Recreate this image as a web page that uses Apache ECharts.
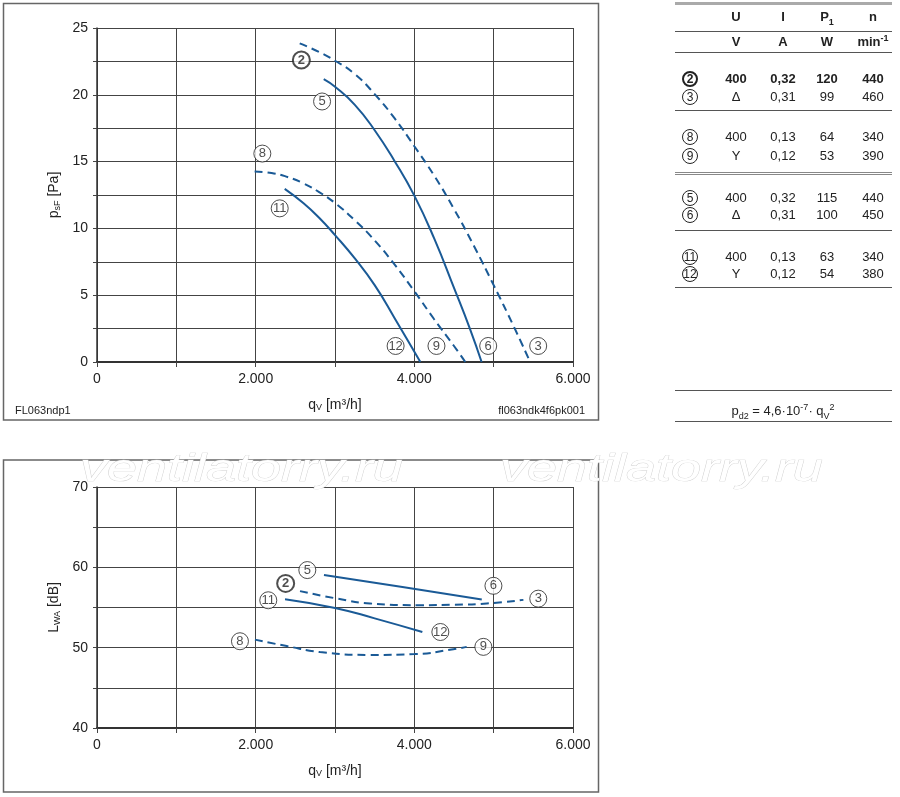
<!DOCTYPE html>
<html>
<head>
<meta charset="utf-8">
<script src="https://cdn.jsdelivr.net/npm/echarts@6/dist/echarts.min.js"></script>
<style>
  html, body { margin:0; padding:0; background:#fff; }
  #chart { position:absolute; left:0; top:0; width:900px; height:797px; }
  #table { position:absolute; left:0; top:0; width:900px; height:797px; pointer-events:none;
           font-family:"Liberation Sans", Arial, sans-serif; font-size:13px; color:#222; }
  .c { position:absolute; width:64px; text-align:center; line-height:16px; height:16px; white-space:nowrap; }
  .hl { position:absolute; left:675px; width:217px; height:1px; background:#555; }
  .circ { display:inline-block; width:14px; height:14px; border:1px solid #222; border-radius:50%;
          font-size:12px; line-height:14px; text-align:center; }
  .circ.b { border-width:2px; width:12px; height:12px; line-height:12px; font-weight:bold; }
  .sb { position:relative; top:4px; font-size:9px; line-height:0; }
  .sp { position:relative; top:-5px; font-size:9px; line-height:0; }
</style>
</head>
<body>
<div id="chart"></div>
<div id="table"></div>
<script>
// ---------- data ----------
const flowTicks = [0, 2000, 4000, 6000];
const flowTickLabels = ['0', '2.000', '4.000', '6.000'];
const pressureTicks = [0, 5, 10, 15, 20, 25];
const soundTicks = [40, 50, 60, 70];

// pressure curves [qV m3/h, psF Pa]
const p2_3 = [[2555,23.85],[2800,23.2],[3000,22.55],[3250,21.55],[3500,20.05],[3750,18.25],[4000,16.15],[4250,13.95],[4500,11.45],[4750,8.7],[5000,5.75],[5250,2.7],[5460,0]];
const p5_6 = [[2858,21.17],[3000,20.6],[3250,19.25],[3500,17.35],[3750,15.05],[4000,12.45],[4250,9.25],[4500,5.55],[4700,2.5],[4848,0]];
const p8_9 = [[1987,14.25],[2200,14.15],[2400,13.85],[2600,13.38],[2800,12.72],[3000,11.9],[3250,10.6],[3500,9.1],[3750,7.3],[4000,5.3],[4250,3.2],[4500,1.2],[4643,0]];
const p11_12 = [[2366,12.96],[2600,11.9],[2800,10.8],[3000,9.5],[3250,7.75],[3500,5.75],[3750,3.3],[4076,0]];

// sound power curves [qV m3/h, LWA dB]
const s5_6 = [[2861,59.04],[3850,57.55],[4850,56.0]];
const s2_3 = [[2559,57.04],[3021,56.12],[3441,55.5],[4072,55.29],[4500,55.35],[4913,55.5],[5375,55.95]];
const s11_12 = [[2370,56.04],[3000,54.95],[3500,53.65],[4101,51.95]];
const s8_9 = [[1991,51.0],[2391,50.2],[2811,49.45],[3441,49.1],[4000,49.2],[4492,49.8],[4660,50.1]];

// circled curve labels [qV, value, number]
const pLabels = [[2576,22.6,'2'],[2837,19.5,'5'],[2084,15.6,'8'],[2303,11.5,'11'],[3764,1.2,'12'],[4279,1.2,'9'],[4931,1.2,'6'],[5561,1.2,'3']];
const sLabels = [[2651,59.66,'5'],[2378,58.0,'2'],[2159,55.9,'11'],[1802,50.8,'8'],[4997,57.7,'6'],[5562,56.1,'3'],[4328,51.95,'12'],[4870,50.1,'9']];

// table
const tableCurves = ['2','3','8','9','5','6','11','12'];
const tableU = ['400','Δ','400','Y','400','Δ','400','Y'];
const tableI = ['0,32','0,31','0,13','0,12','0,32','0,31','0,13','0,12'];
const tableP = ['120','99','64','53','115','100','63','54'];
const tableN = ['440','460','340','390','440','450','340','380'];
const boldRow = '2';

// ---------- chart ----------
const BLUE = '#1a5a96';
const DASH = [8, 5];
const chart = echarts.init(document.getElementById('chart'), null, {renderer:'canvas'});

const nameRich = { a:{fontSize:14, color:'#222', fontFamily:'Liberation Sans', lineHeight:20, verticalAlign:'bottom'},
                   s:{fontSize:9, color:'#222', fontFamily:'Liberation Sans', lineHeight:12, verticalAlign:'bottom'} };

function xAxisCfg(gi) {
  return {
    type:'value', gridIndex:gi, min:0, max:6000, interval:1000,
    name:'{a|q}{s|V}{a| [m³/h]}', nameLocation:'middle', nameGap:30,
    nameTextStyle:{ rich:nameRich },
    axisLine:{ show:true, onZero:false, lineStyle:{color:'#333', width:2} },
    axisTick:{ show:true, length:5, lineStyle:{color:'#444', width:1} },
    axisLabel:{ fontSize:14, color:'#222', fontFamily:'Liberation Sans', margin:10,
      formatter: v => { const i = flowTicks.indexOf(v); return i >= 0 ? flowTickLabels[i] : ''; } },
    splitLine:{ show:true, lineStyle:{color:'#444', width:1} }
  };
}
function yAxisCfg(gi, min, max, interval, ticks, name) {
  return {
    type:'value', gridIndex:gi, min:min, max:max, interval:interval,
    name:name, nameLocation:'middle', nameGap:31, nameRotate:90,
    nameTextStyle:{ rich:nameRich },
    axisLine:{ show:true, onZero:false, lineStyle:{color:'#333', width:1.5} },
    axisTick:{ show:true, length:4, lineStyle:{color:'#444', width:1} },
    axisLabel:{ fontSize:14, color:'#222', fontFamily:'Liberation Sans', margin:9,
      formatter: v => ticks.indexOf(v) >= 0 ? String(v) : '' },
    splitLine:{ show:true, lineStyle:{color:'#444', width:1} }
  };
}
function curve(data, dashed, xi) {
  return { type:'line', xAxisIndex:xi, yAxisIndex:xi, data:data, smooth:0.5,
           showSymbol:false, symbol:'none',
           lineStyle:{color:BLUE, width:2, type: dashed ? DASH : 'solid'}, z:3, silent:true };
}
function circles(list, xi) {
  return { type:'scatter', xAxisIndex:xi, yAxisIndex:xi, z:5, silent:true, symbol:'circle', symbolSize:17,
    data: list.map(d => ({ value:d,
      itemStyle:{ color:'#fff', borderColor:'#222', borderWidth: d[2] === boldRow ? 2 : 1 },
      label:{ fontWeight: d[2] === boldRow ? 'bold' : 'normal' } })),
    label:{ show:true, position:'inside', color:'#222', fontSize: 13, fontFamily:'Liberation Sans',
            formatter: p => p.value[2] }
  };
}

const wmStyle = { text:'ventilatorry.ru', font:'italic 38px "Liberation Sans"', fill:'#fff', stroke:'#cfcfcf', lineWidth:0.7 };

const option = {
  animation:false,
  backgroundColor:'#fff',
  grid:[ {left:97, top:28, width:476, height:334}, {left:97, top:487, width:476, height:241} ],
  xAxis:[ xAxisCfg(0), xAxisCfg(1) ],
  yAxis:[ yAxisCfg(0, 0, 25, 2.5, pressureTicks, '{a|p}{s|sF}{a| [Pa]}'),
          yAxisCfg(1, 40, 70, 5, soundTicks, '{a|L}{s|WA}{a| [dB]}') ],
  series:[
    curve(p2_3, true, 0), curve(p5_6, false, 0), curve(p8_9, true, 0), curve(p11_12, false, 0),
    circles(pLabels, 0),
    curve(s2_3, true, 1), curve(s5_6, false, 1), curve(s8_9, true, 1), curve(s11_12, false, 1),
    circles(sLabels, 1)
  ],
  graphic:[
    { type:'rect', shape:{x:3.5, y:3.5, width:595, height:416.5}, style:{fill:'none', stroke:'#666', lineWidth:1.5}, z:1 },
    { type:'rect', shape:{x:3.5, y:460, width:595, height:332}, style:{fill:'none', stroke:'#666', lineWidth:1.5}, z:1 },
    { type:'text', x:15, y:405, style:{text:'FL063ndp1', font:'11px "Liberation Sans"', fill:'#222'} },
    { type:'text', x:585, y:405, style:{text:'fl063ndk4f6pk001', font:'11px "Liberation Sans"', fill:'#222', align:'right', textAlign:'right'} },
    { type:'text', x:80, y:451, scaleX:1.42, z:100, style:Object.assign({}, wmStyle) },
    { type:'text', x:500, y:451, scaleX:1.42, z:100, style:Object.assign({}, wmStyle) }
  ]
};
chart.setOption(option);

// ---------- table (HTML text) ----------
const T = document.getElementById('table');
const colX = [690, 736, 783, 827, 873];
const rowY = [79.3, 96.7, 137.3, 155.7, 198.3, 215, 256.7, 274];
function cell(html, x, y, bold) {
  const d = document.createElement('div');
  d.className = 'c';
  d.style.left = (x - 32) + 'px';
  d.style.top = (y - 8) + 'px';
  if (bold) d.style.fontWeight = 'bold';
  d.innerHTML = html;
  T.appendChild(d);
}
function hline(y, h, color) {
  const d = document.createElement('div');
  d.className = 'hl';
  d.style.top = y + 'px';
  if (h) d.style.height = h + 'px';
  if (color) d.style.background = color;
  T.appendChild(d);
}
['U','I','P<span class="sb">1</span>','n'].forEach((t,i)=>cell(t, colX[i+1], 16.7, true));
['V','A','W','min<span class="sp">-1</span>'].forEach((t,i)=>cell(t, colX[i+1], 42, true));
tableCurves.forEach((c, r) => {
  const b = c === boldRow;
  cell('<span class="circ' + (b ? ' b' : '') + '">' + c + '</span>', colX[0], rowY[r], false);
  cell(tableU[r], colX[1], rowY[r], b);
  cell(tableI[r], colX[2], rowY[r], b);
  cell(tableP[r], colX[3], rowY[r], b);
  cell(tableN[r], colX[4], rowY[r], b);
});
hline(1.5, 3, '#aaa');
hline(30.5); hline(52); hline(110); hline(171.5, 1, '#888'); hline(174, 1, '#888'); hline(230); hline(287);
hline(390); hline(420.5);
const f = document.createElement('div');
f.className = 'c';
f.style.left = '683px'; f.style.width = '200px'; f.style.top = '403px';
f.innerHTML = 'p<span class="sb">d2</span> = 4,6·10<span class="sp">-7</span>· q<span class="sb">V</span><span class="sp">2</span>';
T.appendChild(f);
</script>
</body>
</html>
